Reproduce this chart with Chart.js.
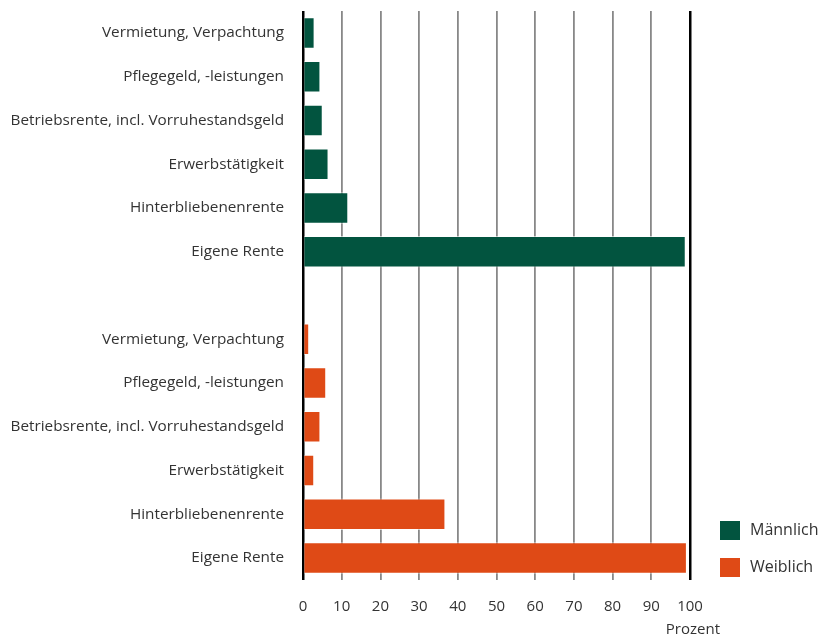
<!DOCTYPE html>
<html>
<head>
<meta charset="utf-8">
<script src="https://cdn.jsdelivr.net/npm/chart.js@4"></script>
<style>
  html, body { margin: 0; padding: 0; background: #fff; }
  #wrap { width: 821px; height: 638px; }
</style>
</head>
<body>
<div id="wrap"><canvas id="chart" width="821" height="638"></canvas></div>
<script>
// Kategorien (je Geschlecht gleich)
const categories = ['Vermietung, Verpachtung', 'Pflegegeld, -leistungen', 'Betriebsrente, incl. Vorruhestandsgeld', 'Erwerbstätigkeit', 'Hinterbliebenenrente', 'Eigene Rente'];
// Werte in Prozent
const maleValues = [3.0, 4.5, 5.1, 6.6, 11.7, 98.9];
const femaleValues = [1.6, 6.0, 4.5, 2.9, 36.8, 99.2];
const seriesNames = ['Männlich', 'Weiblich'];
const xTicks = [0, 10, 20, 30, 40, 50, 60, 70, 80, 90, 100];
const axisTitle = 'Prozent';

const green = '#02543f';
const orange = '#df4a16';
const font = '"Open Sans", sans-serif';

// 6 Männer + Leerzeile + 6 Frauen
const labels = categories.concat([''], categories);
const empty = new Array(categories.length + 1).fill(null);
const maleData = maleValues.concat(empty);
const femaleData = empty.concat(femaleValues);

// Achsentitel und Legende selbst zeichnen
const extras = {
    id: 'extras',
    afterDraw(chart) {
        const c = chart.ctx;
        c.save();
        c.fillStyle = '#333';
        c.font = '15px ' + font;
        c.textAlign = 'right';
        c.textBaseline = 'middle';
        c.fillText(axisTitle, 720, 630);

        c.textAlign = 'left';
        c.font = '16px ' + font;
        chart.data.datasets.forEach((ds, i) => {
            const y = 521 + i * 37;
            c.fillStyle = ds.backgroundColor;
            c.fillRect(720, y, 20, 19);
            c.fillStyle = '#333';
            c.fillText(ds.label, 750, y + 9);
        });
        c.restore();
    }
};

new Chart(document.getElementById('chart'), {
    type: 'bar',
    data: {
        labels: labels,
        datasets: [
            { label: seriesNames[0], data: maleData, backgroundColor: green },
            { label: seriesNames[1], data: femaleData, backgroundColor: orange }
        ]
    },
    options: {
        indexAxis: 'y',
        responsive: false,
        animation: false,
        grouped: false,
        barPercentage: 0.72,
        categoryPercentage: 1,
        borderWidth: 1,
        borderColor: 'rgba(255,255,255,0.6)',
        layout: { padding: { top: 11, right: 131, left: 0, bottom: 0 } },
        plugins: { legend: { display: false }, tooltip: { enabled: false } },
        scales: {
            x: {
                min: 0,
                max: 100,
                afterBuildTicks: s => { s.ticks = xTicks.map(v => ({ value: v })); },
                afterFit: s => { s.height = 58; },
                grid: {
                    drawTicks: false,
                    color: ctx => (ctx.tick && (ctx.tick.value === 0 || ctx.tick.value === 100)) ? '#000' : '#888',
                    lineWidth: ctx => (ctx.tick && (ctx.tick.value === 0 || ctx.tick.value === 100)) ? 2.5 : 1.8
                },
                border: { display: false },
                ticks: { color: '#333', font: { family: font, size: 15 }, padding: 18 }
            },
            y: {
                afterFit: s => { s.width = 303; },
                grid: { display: false, tickLength: 19 },
                border: { display: false },
                ticks: { color: '#333', font: { family: font, size: 15.3 }, padding: 0, autoSkip: false }
            }
        }
    },
    plugins: [extras]
});
</script>
</body>
</html>
